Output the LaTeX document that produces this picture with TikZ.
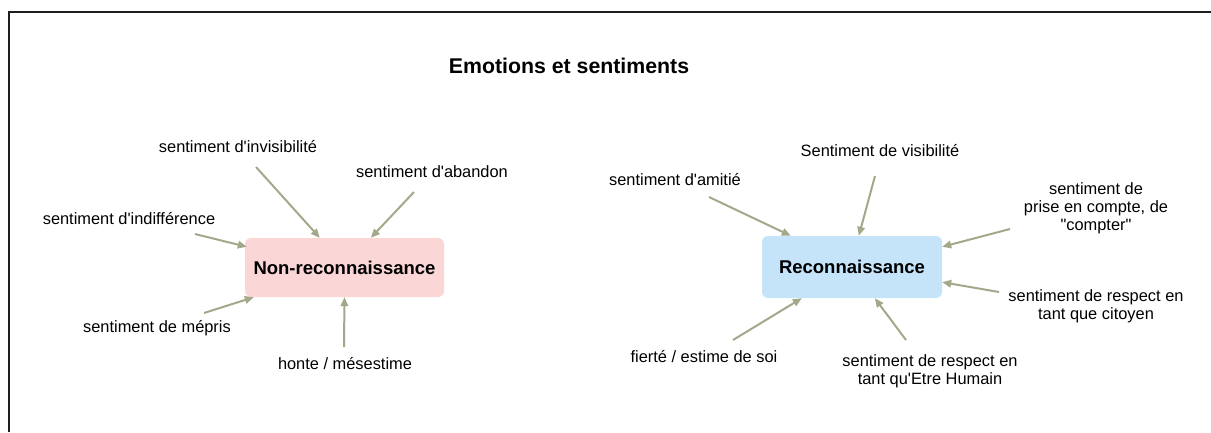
\documentclass[tikz,border=0pt]{standalone}
\usepackage{fontspec}
\setmainfont{Liberation Sans}[Ligatures=TeXOff]
\usetikzlibrary{arrows.meta}
\definecolor{linkc}{RGB}{163,168,138}
\definecolor{pinkfill}{RGB}{250,214,214}
\definecolor{bluefill}{RGB}{197,228,250}
\definecolor{framec}{RGB}{30,30,30}
\begin{document}
\begin{tikzpicture}[x=1pt,y=-1pt,
  lbl/.style={font=\fontsize{16.4}{18}\selectfont, align=center, inner sep=0pt},
  hub/.style={rounded corners=6pt, inner sep=0pt,
    font=\bfseries\fontsize{18.5}{22}\selectfont},
  link/.style={draw=linkc, line width=2pt,
    -{Triangle[length=9pt,width=7.5pt]}}]
\useasboundingbox (0,0) rectangle (1211,432);
% frame
\draw[framec, line width=2pt] (9,432) -- (9,12) -- (1211,12);
% title
\node[inner sep=0pt, font=\bfseries\fontsize{21.3}{24}\selectfont] (title) at (569,66) {Emotions et sentiments};
% hubs
\node[hub, fill=pinkfill, minimum width=199pt, minimum height=59pt] (nr) at (344.5,267.5) {Non-reconnaissance};
\node[hub, fill=bluefill, minimum width=180pt, minimum height=62pt] (rc) at (852,267) {Reconnaissance};
% left labels
\node[lbl] (invis) at (238,147) {sentiment d'invisibilité};
\node[lbl] (aband) at (432,172) {sentiment d'abandon};
\node[lbl] (indif) at (129,219) {sentiment d'indifférence};
\node[lbl] (mepris) at (157,328) {sentiment de mépris};
\node[lbl] (honte) at (345,364) {honte / mésestime};
% right labels
\node[lbl] (visib) at (880,151) {Sentiment de visibilité};
\node[lbl] (amitie) at (675,180) {sentiment d'amitié};
\node[lbl] (prise) at (1096,208) {sentiment de\\prise en compte, de\\"compter"};
\node[lbl] (citoy) at (1096,306.5) {sentiment de respect en\\tant que citoyen};
\node[lbl] (human) at (930,371.5) {sentiment de respect en\\tant qu'Etre Humain};
\node[lbl] (fierte) at (704,357) {fierté / estime de soi};
% arrow tails
\coordinate (t-indif) at (195,234);
\coordinate (t-invis) at (256,167);
\coordinate (t-aband) at (414,192);
\coordinate (t-mepris) at (204,313);
\coordinate (t-honte) at (344,347);
\coordinate (t-amitie) at (709,197);
\coordinate (t-visib) at (875,176);
\coordinate (t-prise) at (1010,229);
\coordinate (t-citoy) at (999,292);
\coordinate (t-human) at (906,340);
\coordinate (t-fierte) at (733,340);
% connectors into Non-reconnaissance
\draw[link] (t-indif) -- ([shift={(2,9)}]nr.north west);
\draw[link] (t-invis) -- ([shift={(75,0)}]nr.north west);
\draw[link] (t-aband) -- ([shift={(126,0)}]nr.north west);
\draw[link] (t-mepris) -- ([shift={(9,0)}]nr.south west);
\draw[link] (t-honte) -- (nr.south);
% connectors into Reconnaissance
\draw[link] (t-amitie) -- ([shift={(29,0)}]rc.north west);
\draw[link] (t-visib) -- ([shift={(97,0)}]rc.north west);
\draw[link] (t-prise) -- ([shift={(0,11)}]rc.north east);
\draw[link] (t-citoy) -- ([shift={(0,-16)}]rc.south east);
\draw[link] (t-human) -- ([shift={(113,0)}]rc.south west);
\draw[link] (t-fierte) -- ([shift={(40,0)}]rc.south west);
\end{tikzpicture}
\end{document}
